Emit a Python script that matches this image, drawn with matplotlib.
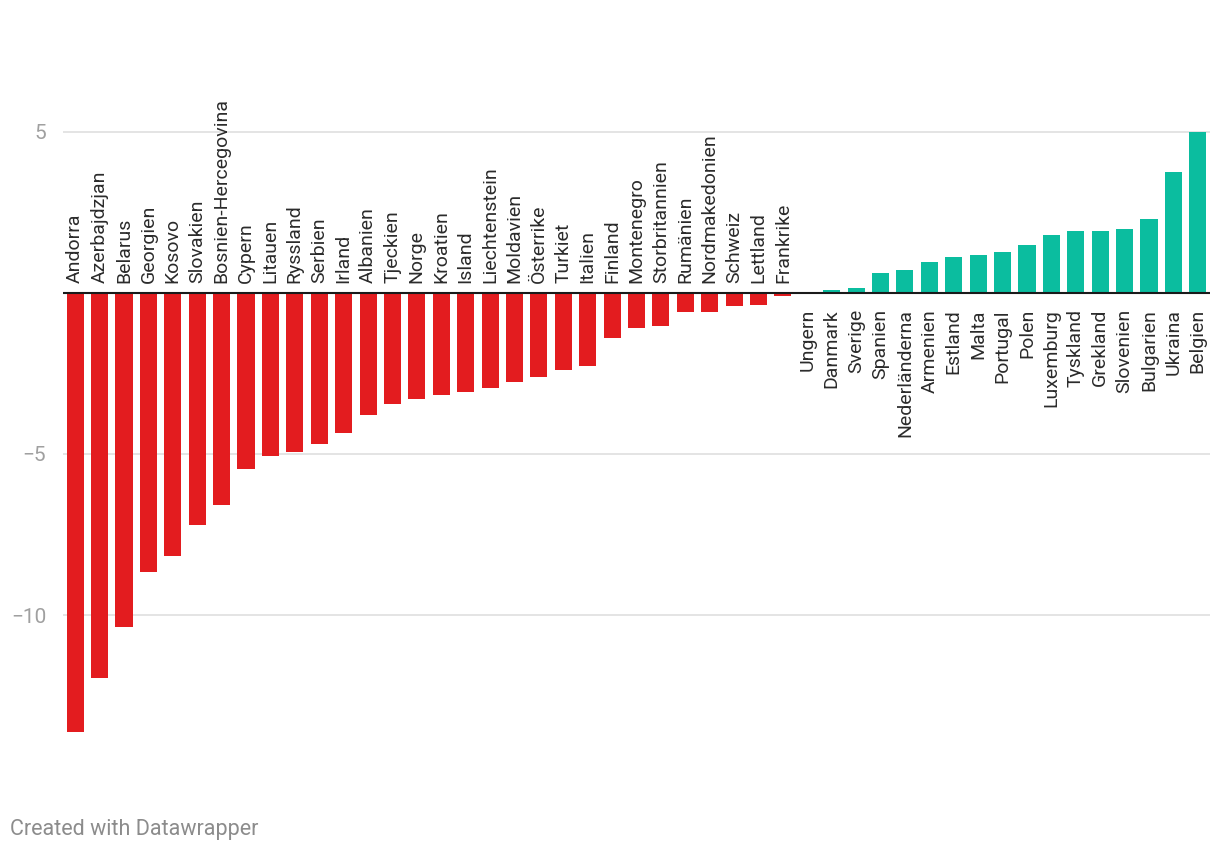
import matplotlib
matplotlib.use("Agg")
import matplotlib.pyplot as plt

plt.rcParams['font.family'] = ['Roboto', 'DejaVu Sans']

# Förändring per land (sorterat)
countries = [
    "Andorra", "Azerbajdzjan", "Belarus", "Georgien", "Kosovo", "Slovakien",
    "Bosnien-Hercegovina", "Cypern", "Litauen", "Ryssland", "Serbien", "Irland",
    "Albanien", "Tjeckien", "Norge", "Kroatien", "Island", "Liechtenstein",
    "Moldavien", "Österrike", "Turkiet", "Italien", "Finland", "Montenegro",
    "Storbritannien", "Rumänien", "Nordmakedonien", "Schweiz", "Lettland",
    "Frankrike", "Ungern", "Danmark", "Sverige", "Spanien", "Nederländerna",
    "Armenien", "Estland", "Malta", "Portugal", "Polen", "Luxemburg",
    "Tyskland", "Grekland", "Slovenien", "Bulgarien", "Ukraina", "Belgien",
]
values = [
    -13.62, -11.94, -10.36, -8.65, -8.18, -7.19,
    -6.57, -5.48, -5.05, -4.93, -4.68, -4.34,
    -3.78, -3.44, -3.28, -3.16, -3.07, -2.94,
    -2.76, -2.60, -2.38, -2.27, -1.39, -1.08,
    -1.02, -0.59, -0.59, -0.39, -0.37,
    -0.09, 0.0, 0.08, 0.14, 0.61, 0.71,
    0.96, 1.11, 1.17, 1.26, 1.48, 1.79,
    1.91, 1.91, 1.97, 2.31, 3.77, 5.0,
]
yticks = [5, -5, -10]
ytick_labels = ["5", "\u22125", "\u221210"]

RED = "#e31c1f"
TEAL = "#0bbd9f"

W, H = 1220, 852
fig = plt.figure(figsize=(W / 100, H / 100), dpi=100)
# axes in pixel coordinates: left 63, right 1210, top 100, bottom 760
ax = fig.add_axes([63 / W, 1 - 760 / H, (1210 - 63) / W, (760 - 100) / H])

x = list(range(len(values)))
colors = [RED if v < 0 else TEAL for v in values]
ax.bar(x, values, width=0.7, color=colors, zorder=2)

ax.set_xlim(-0.5, len(values) - 0.5)
ax.set_ylim(-14.5, 5.99)

for yt in yticks:
    ax.axhline(yt, color="#e4e4e4", lw=1.4, zorder=0)
ax.axhline(0, color="#1a1a1a", lw=1.5, zorder=3)

ax.set_yticks(yticks)
ax.set_yticklabels(ytick_labels, color="#a0a0a0", fontsize=15)
ax.tick_params(axis="y", length=0, pad=12)
ax.set_xticks([])
for s in ax.spines.values():
    s.set_visible(False)

# landsnamn vid nollinjen
for i, (name, v) in enumerate(zip(countries, values)):
    if v < 0:
        ax.text(i, 0.32, name, rotation=90, rotation_mode="anchor",
                ha="left", va="center", fontsize=14, color="#2b2b2b")
    else:
        ax.text(i, -0.5, name, rotation=90, rotation_mode="anchor",
                ha="right", va="center", fontsize=14, color="#2b2b2b")

fig.text(10 / W, 1 - 829 / H, "Created with Datawrapper", fontsize=15.5,
         color="#8c8c8c", ha="left", va="center")

fig.savefig("out.png", dpi=100, facecolor="white")
